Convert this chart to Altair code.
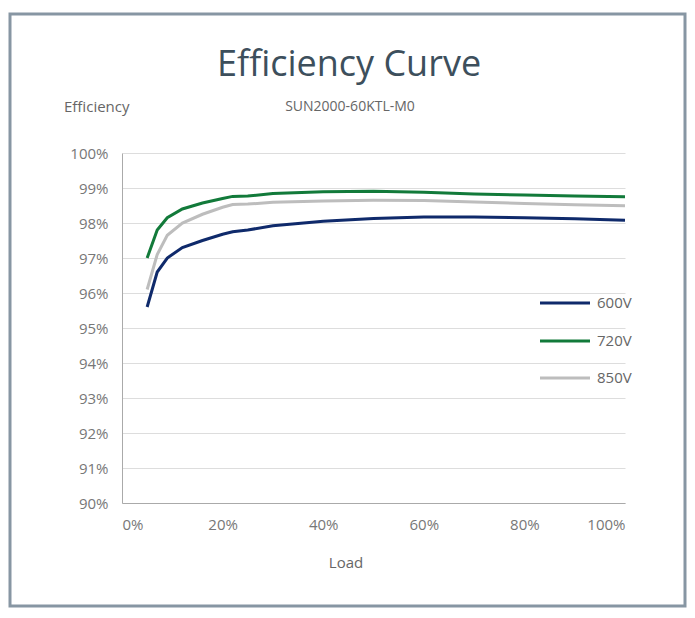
import pandas as pd
import altair as alt

load = [5, 7, 9, 12, 16, 20, 22, 25, 30, 40, 50, 60, 70, 80, 90, 100]
eff_600 = [95.6, 96.6, 97.0, 97.3, 97.5, 97.68, 97.75, 97.8, 97.92, 98.05, 98.13, 98.17, 98.17, 98.15, 98.12, 98.08]
eff_720 = [97.0, 97.8, 98.15, 98.4, 98.57, 98.7, 98.76, 98.77, 98.84, 98.89, 98.91, 98.88, 98.83, 98.8, 98.77, 98.75]
eff_850 = [96.1, 97.1, 97.65, 98.0, 98.25, 98.45, 98.53, 98.54, 98.59, 98.63, 98.65, 98.64, 98.6, 98.56, 98.52, 98.49]
series = ["600V", "720V", "850V"]
colors = ["#0f2a6b", "#127a3a", "#bdbdbd"]

df = pd.concat([
    pd.DataFrame({"load": load, "eff": e, "series": s})
    for e, s in zip([eff_600, eff_720, eff_850], series)
])
FONT = "Open Sans"

lines = alt.Chart(df).mark_line(strokeWidth=3, clip=True).encode(
    x=alt.X("load:Q", scale=alt.Scale(domain=[0, 100]),
            axis=alt.Axis(values=[0, 20, 40, 60, 80, 100], labelExpr="datum.value + '%'",
                          title=None, grid=False, ticks=False, labelPadding=14,
                          labelFontSize=15, labelColor="#777777", domainColor="#aaaaaa")),
    y=alt.Y("eff:Q", scale=alt.Scale(domain=[90, 100]),
            axis=alt.Axis(values=list(range(90, 101)), labelExpr="datum.value + '%'",
                          title=None, ticks=False, labelPadding=14, labelFontSize=15,
                          labelColor="#777777", gridColor="#dddddd", domainColor="#aaaaaa")),
    color=alt.Color("series:N", scale=alt.Scale(domain=series, range=colors), legend=None),
)

frame = alt.Chart(pd.DataFrame({"a": [0]})).mark_rect(
    fillOpacity=0, stroke="#8796a3", strokeWidth=3, clip=False
).encode(x=alt.value(-112), x2=alt.value(563), y=alt.value(-139), y2=alt.value(453))

def txt(t, x, y, size, color="#666666", align="center"):
    return alt.Chart(pd.DataFrame({"t": [t]})).mark_text(
        fontSize=size, font=FONT, color=color, align=align, baseline="middle"
    ).encode(text="t:N", x=alt.value(x), y=alt.value(y))

texts = [
    txt("Efficiency Curve", 227, -88, 36, "#3d4f5c"),
    txt("Efficiency", -58, -46, 15, align="left"),
    txt("SUN2000-60KTL-M0", 228, -46, 14),
    txt("Load", 224, 410, 15),
]
leg_y = [150, 188, 225]
leg = []
for s, c, y in zip(series, colors, leg_y):
    leg.append(alt.Chart(pd.DataFrame({"a": [0]})).mark_rule(color=c, strokeWidth=3).encode(
        x=alt.value(418), x2=alt.value(468), y=alt.value(y)))
    leg.append(txt(s, 475, y, 15, align="left"))

chart = alt.layer(frame, lines, *texts, *leg).properties(
    width=503, height=350, autosize="none", background="white",
    padding={"left": 114, "top": 145, "right": 62, "bottom": 107},
).configure_view(stroke=None).configure_axis(labelFont=FONT)

chart.save("out.html", embed_options={"renderer": "svg", "actions": False})
